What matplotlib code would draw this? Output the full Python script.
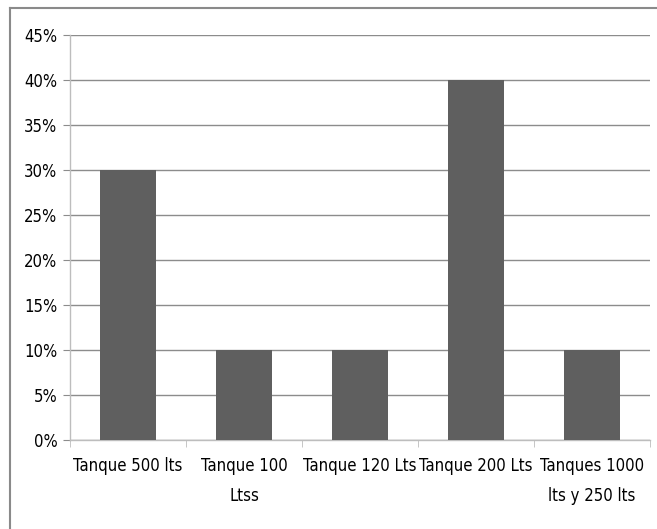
import matplotlib.pyplot as plt
from matplotlib.ticker import FuncFormatter, MultipleLocator
from matplotlib.lines import Line2D

plt.rcParams['font.family'] = ['DejaVu Sans']
plt.rcParams['font.stretch'] = 'condensed'

categories = ["Tanque 500 lts", "Tanque 100\nLtss", "Tanque 120 Lts",
              "Tanque 200 Lts", "Tanques 1000\nlts y 250 lts"]
shares = [0.30, 0.10, 0.10, 0.40, 0.10]

fig = plt.figure(figsize=(6.57, 5.29), dpi=100)
ax = fig.add_axes([70 / 657, 1 - 440 / 529, 580 / 657, 405 / 529])

x = range(len(categories))
ax.bar(x, shares, width=0.48, color="#5f5f5f", zorder=3)

ax.set_xlim(-0.5, len(categories) - 0.5)
ax.set_ylim(0, 0.45)
ax.yaxis.set_major_locator(MultipleLocator(0.05))
ax.yaxis.set_major_formatter(FuncFormatter(lambda v, _: f"{v * 100:.0f}%"))
ax.grid(axis="y", color="#8c8c8c", linewidth=1.0, zorder=0)

for side in ("top", "right"):
    ax.spines[side].set_visible(False)
for side in ("left", "bottom"):
    ax.spines[side].set_color("#bdbdbd")
    ax.spines[side].set_linewidth(1.0)

ax.tick_params(axis="y", length=5, color="#8c8c8c", labelsize=12, pad=4)
ax.set_xticks(x)
ax.set_xticklabels(categories, fontsize=12, linespacing=1.9)
ax.tick_params(axis="x", length=0, pad=12)
# category boundary ticks under the axis
ax.set_xticks([i - 0.5 for i in range(len(categories) + 1)], minor=True)
ax.tick_params(axis="x", which="minor", length=5, color="#bdbdbd")

# chart frame (top and left edges)
fig.add_artist(Line2D([10 / 657, 1], [1 - 8 / 529, 1 - 8 / 529],
                      transform=fig.transFigure, color="#8a8a8a", linewidth=1.5))
fig.add_artist(Line2D([10 / 657, 10 / 657], [0, 1 - 8 / 529],
                      transform=fig.transFigure, color="#8a8a8a", linewidth=1.5))

fig.savefig("out.png", dpi=100)
